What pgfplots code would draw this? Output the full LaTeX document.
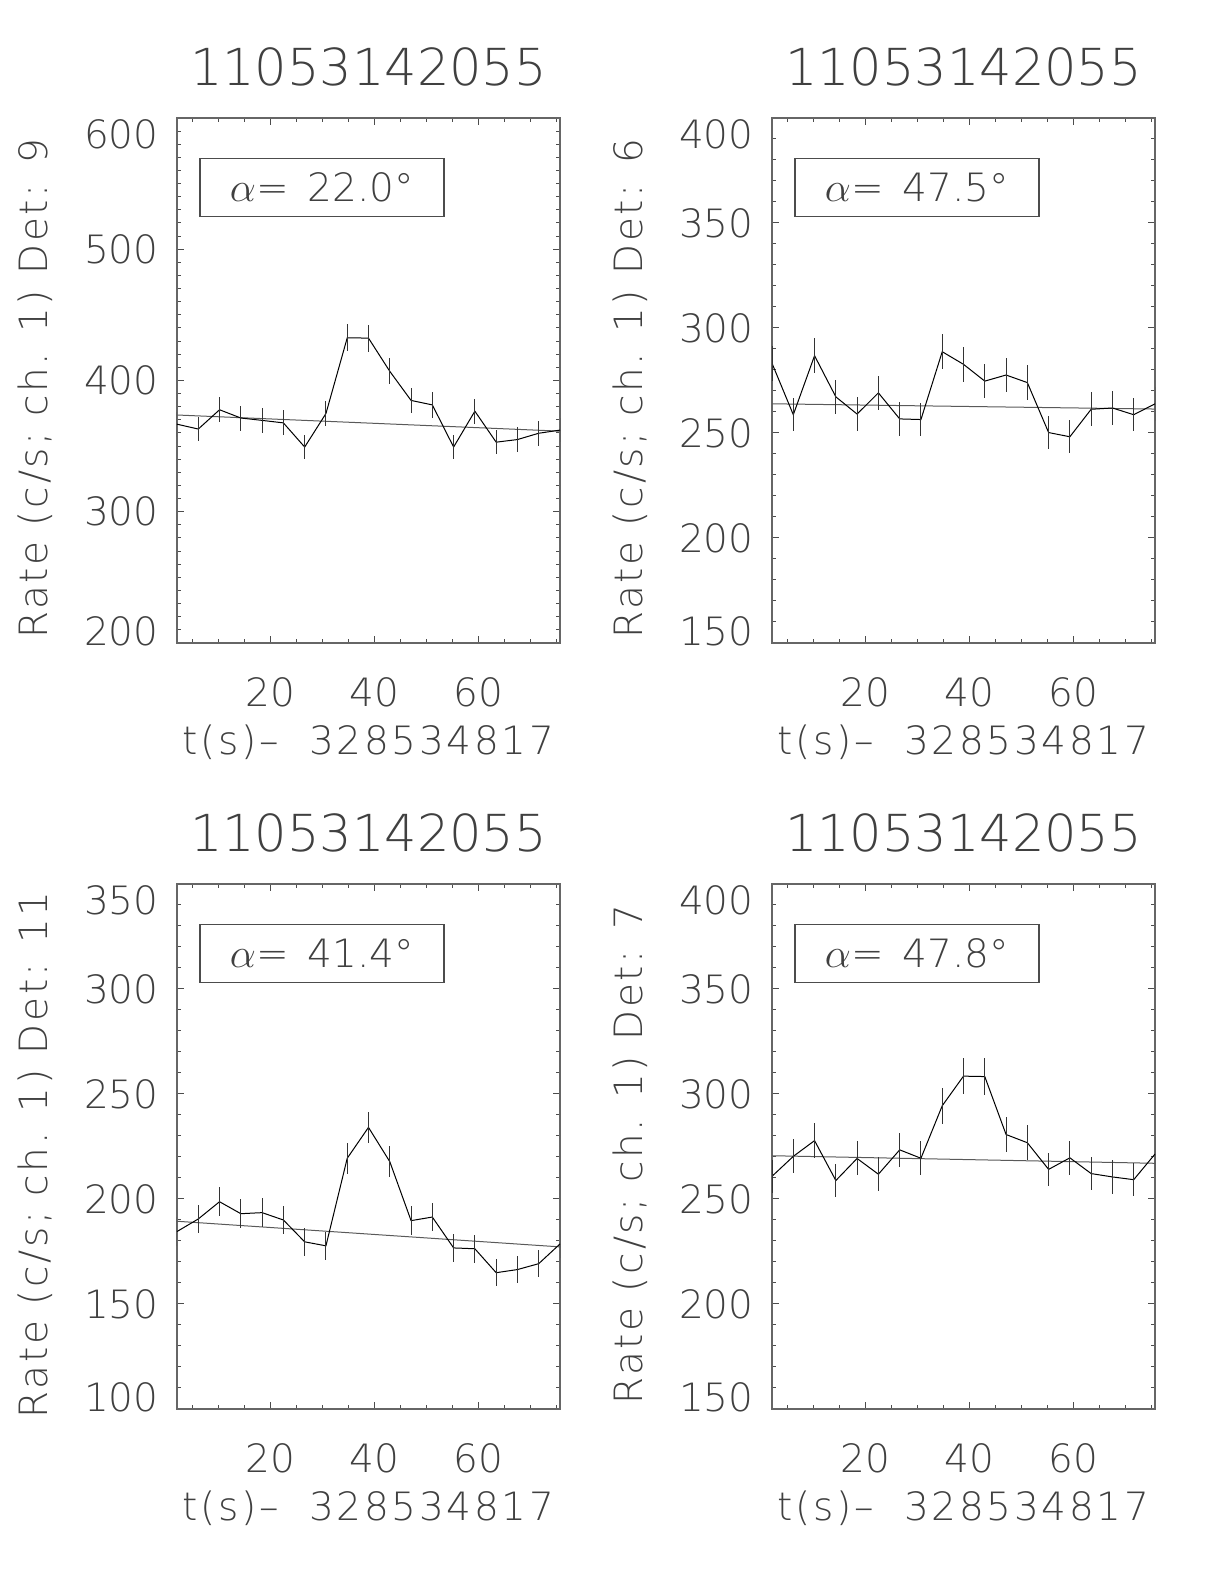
\documentclass[border=0pt]{standalone}
\usepackage{pgfplots}
\usepackage{pgfplotstable}
\pgfplotsset{compat=1.18}
\usepackage{fontspec}
\setmainfont{DejaVu Sans ExtraLight}
\newcommand{\tsz}{\fontsize{25.5}{28}\selectfont}
\newcommand{\lsz}{\fontsize{19.5}{22}\selectfont}
\newcommand{\labsz}{\fontsize{19.5}{22}\selectfont\addfontfeatures{LetterSpace=7}}

\pgfplotstableread{
t r e
2.00 366.7 9.46
6.10 363.0 9.41
10.19 377.7 9.60
14.29 371.4 9.52
18.38 369.6 9.50
22.48 367.7 9.47
26.58 349.3 9.23
30.67 374.8 9.57
34.77 432.5 10.28
38.86 432.3 10.27
42.96 407.0 9.97
47.06 384.8 9.69
51.15 381.4 9.65
55.25 349.3 9.23
59.34 376.6 9.59
63.44 353.0 9.28
67.54 355.0 9.31
71.63 359.8 9.37
75.73 362.2 9.40
}\dataA

\pgfplotstableread{
t r e
2.00 283.2 8.32
6.10 258.7 7.95
10.19 286.8 8.37
14.29 267.2 8.08
18.38 259.0 7.95
22.48 269.1 8.11
26.58 256.7 7.92
30.67 256.4 7.91
34.77 288.7 8.40
38.86 282.7 8.31
42.96 274.7 8.19
47.06 277.6 8.23
51.15 274.0 8.18
55.25 250.2 7.82
59.34 248.2 7.78
63.44 261.3 7.99
67.54 261.9 8.00
71.63 258.7 7.95
75.73 263.9 8.03
}\dataB

\pgfplotstableread{
t r e
2.00 184.5 6.71
6.10 190.5 6.82
10.19 198.7 6.96
14.29 193.0 6.86
18.38 193.5 6.87
22.48 190.0 6.81
26.58 179.6 6.62
30.67 177.7 6.59
34.77 219.4 7.32
38.86 234.1 7.56
42.96 217.8 7.29
47.06 189.7 6.81
51.15 191.4 6.84
55.25 176.7 6.57
59.34 176.3 6.56
63.44 164.9 6.34
67.54 166.4 6.37
71.63 169.2 6.43
75.73 178.6 6.60
}\dataC

\pgfplotstableread{
t r e
2.00 260.8 7.98
6.10 270.3 8.12
10.19 277.8 8.24
14.29 258.8 7.95
18.38 269.3 8.11
22.48 261.8 7.99
26.58 273.4 8.17
30.67 269.4 8.11
34.77 294.4 8.48
38.86 308.5 8.68
42.96 308.3 8.68
47.06 280.7 8.28
51.15 276.8 8.22
55.25 264.1 8.03
59.34 269.6 8.11
63.44 262.1 8.00
67.54 260.5 7.97
71.63 259.2 7.95
75.73 271.4 8.14
}\dataD

\pgfplotsset{
  panel/.style={
    scale only axis, width=191.5pt, height=262.5pt,
    xmin=2, xmax=75.73,
    xtick={20,40,60}, xticklabels={20,40,60},
    minor xtick={5,10,...,75},
    tick align=inside,
    major tick length=3.6pt, minor tick length=2pt,
    every tick/.style={black!70, line width=0.5pt},
    axis line style={black!60, line width=0.8pt},
    tick label style={font=\lsz, inner sep=0pt, text=black!75},
    xticklabel style={anchor=center, yshift=-24.5pt},
    yticklabel style={anchor=base east, xshift=-9pt, yshift=-7.1pt},
    label style={font=\labsz, text=black!75},
    xlabel={t(s)\textendash\ \ 328534817},
    xlabel style={at={(axis description cs:0.5,-0.1886)}, anchor=center},
    ylabel style={at={(axis description cs:-0.3695,0.484)}, anchor=center},
    title={11053142055},
    title style={font=\tsz, text=black!75, at={(axis description cs:0.5,1.0743)}, anchor=center},
  },
  data/.style={black, line width=0.5pt, mark=none,
    error bars/.cd, y dir=both, y explicit, error mark=none,
    error bar style={black!80, line width=0.5pt}},
  fit/.style={black!65, line width=0.5pt, mark=none},
}

\newcommand{\abox}[1]{%
  \draw[black!70, line width=0.6pt] (rel axis cs:0.060,0.813) rectangle (rel axis cs:0.697,0.923);
  \node[font=\lsz, text=black!75] at (rel axis cs:0.3785,0.868) {$\alpha$=\ \,#1°};
}

\begin{document}
\begin{tikzpicture}
\path[use as bounding box] (0,0) rectangle (612pt,792pt);

% Panel 1
\begin{axis}[panel, at={(88.5pt,470.5pt)}, anchor=south west,
  ymin=200, ymax=600, ytick={200,300,400,500,600},
  yticklabels={\raisebox{6pt}{200},300,400,500,\raisebox{-8pt}{600}},
  minor ytick={200,210,...,600},
  ylabel={Rate (c/s; ch. 1) Det: 9}]
  \addplot[fit] coordinates {(2,373.7) (75.73,361.4)};
  \addplot[data] table[x=t, y=r, y error=e] {\dataA};
  \abox{22.0}
\end{axis}

% Panel 2
\begin{axis}[panel, at={(386pt,470.5pt)}, anchor=south west,
  ymin=150, ymax=400, ytick={150,200,250,300,350,400},
  yticklabels={\raisebox{6pt}{150},200,250,300,350,\raisebox{-8pt}{400}},
  minor ytick={150,160,...,400},
  ylabel={Rate (c/s; ch. 1) Det: 6}]
  \addplot[fit] coordinates {(2,263.9) (75.73,261.4)};
  \addplot[data] table[x=t, y=r, y error=e] {\dataB};
  \abox{47.5}
\end{axis}

% Panel 3
\begin{axis}[panel, at={(88.5pt,87.5pt)}, anchor=south west,
  ymin=100, ymax=350, ytick={100,150,200,250,300,350},
  yticklabels={\raisebox{6pt}{100},150,200,250,300,\raisebox{-8pt}{350}},
  minor ytick={100,110,...,350},
  ylabel={Rate (c/s; ch. 1) Det: 11}]
  \addplot[fit] coordinates {(2,189.4) (75.73,177.2)};
  \addplot[data] table[x=t, y=r, y error=e] {\dataC};
  \abox{41.4}
\end{axis}

% Panel 4
\begin{axis}[panel, at={(386pt,87.5pt)}, anchor=south west,
  ymin=150, ymax=400, ytick={150,200,250,300,350,400},
  yticklabels={\raisebox{6pt}{150},200,250,300,350,\raisebox{-8pt}{400}},
  minor ytick={150,160,...,400},
  ylabel={Rate (c/s; ch. 1) Det: 7}]
  \addplot[fit] coordinates {(2,270.6) (75.73,267.0)};
  \addplot[data] table[x=t, y=r, y error=e] {\dataD};
  \abox{47.8}
\end{axis}
\end{tikzpicture}
\end{document}
